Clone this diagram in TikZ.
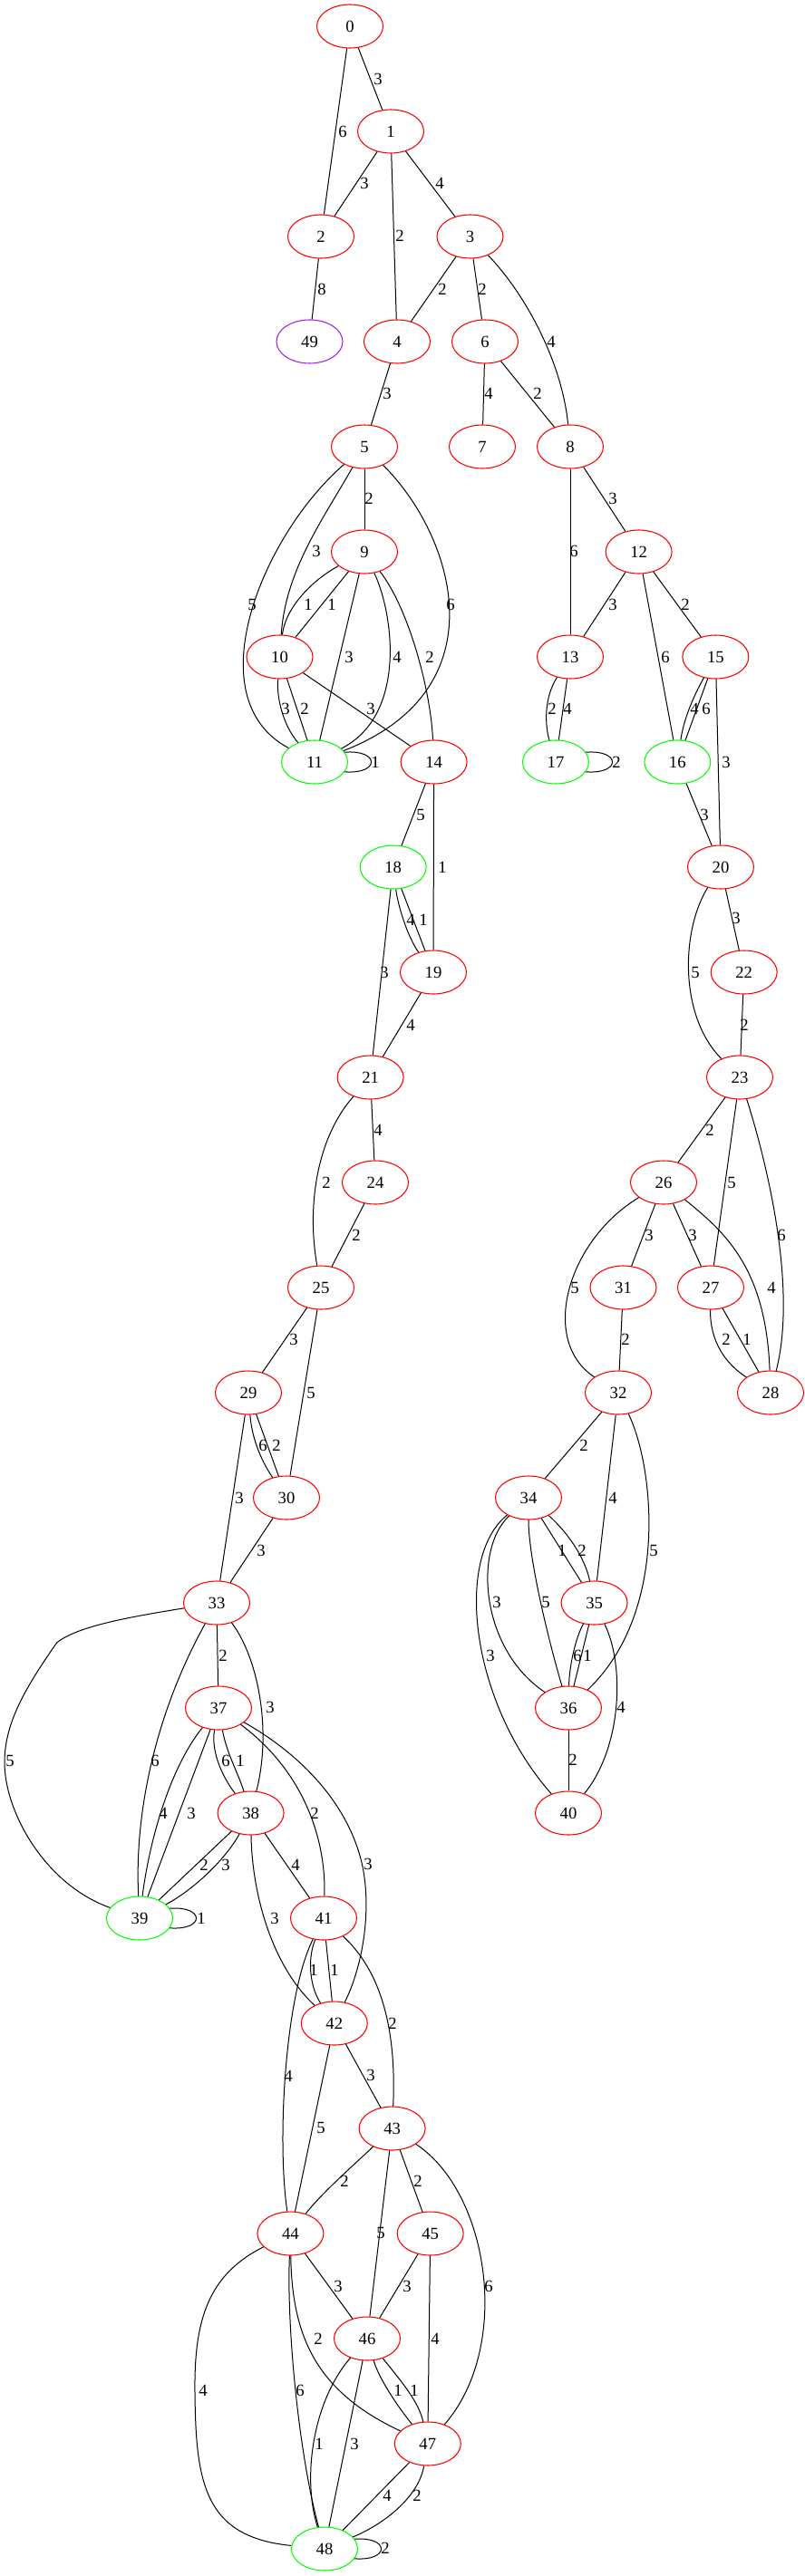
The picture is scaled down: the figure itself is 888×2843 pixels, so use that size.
\documentclass[tikz,border=0pt]{standalone}
\usepackage{fontspec}
\setmainfont{Liberation Serif}
\usetikzlibrary{shapes.geometric}
\definecolor{gvred}{HTML}{FF0000}
\definecolor{gvgreen}{HTML}{00FF00}
\definecolor{gvpurple}{HTML}{A020F0}
\tikzset{
 vtx/.style={ellipse, draw=gvred, line width=0.8pt, minimum width=54.75pt, minimum height=36pt, inner sep=0pt, font=\fontsize{14}{16}\selectfont},
 gvtx/.style={vtx, draw=gvgreen},
 pvtx/.style={vtx, draw=gvpurple},
 ed/.style={line width=0.75pt, draw=black},
 lbl/.style={inner sep=0pt, font=\fontsize{14}{16}\selectfont}
}
\begin{document}
\begin{tikzpicture}[x=0.75pt,y=-0.75pt]
\fill[white] (0,0) rectangle (888,2843);
\useasboundingbox (0,0) rectangle (888,2843);
% nodes
\node[vtx] (n0) at (386,29) {0};
\node[vtx] (n1) at (431,145) {1};
\node[vtx] (n2) at (354,261) {2};
\node[vtx] (n3) at (518.5,261) {3};
\node[pvtx] (n49) at (341.5,377) {49};
\node[vtx] (n4) at (438,377) {4};
\node[vtx] (n6) at (535,377) {6};
\node[vtx] (n5) at (402,493) {5};
\node[vtx] (n7) at (532,493) {7};
\node[vtx] (n8) at (629,493) {8};
\node[vtx] (n9) at (402,609) {9};
\node[vtx] (n12) at (704.6,609) {12};
\node[vtx] (n10) at (308.5,725) {10};
\node[vtx] (n13) at (629,725) {13};
\node[vtx] (n15) at (789.4,725) {15};
\node[gvtx] (n11) at (347,841) {11};
\node[vtx] (n14) at (478.6,841) {14};
\node[gvtx] (n17) at (613,841) {17};
\node[gvtx] (n16) at (747.3,841) {16};
\node[gvtx] (n18) at (433.7,957) {18};
\node[vtx] (n20) at (795,957) {20};
\node[vtx] (n19) at (478,1073) {19};
\node[vtx] (n22) at (820.7,1073) {22};
\node[vtx] (n21) at (408.6,1189) {21};
\node[vtx] (n23) at (816,1189) {23};
\node[vtx] (n24) at (414,1305) {24};
\node[vtx] (n26) at (732,1305) {26};
\node[vtx] (n25) at (354,1421) {25};
\node[vtx] (n31) at (687.5,1421) {31};
\node[vtx] (n27) at (784,1421) {27};
\node[vtx] (n29) at (274,1537) {29};
\node[vtx] (n32) at (682,1537) {32};
\node[vtx] (n28) at (850,1537) {28};
\node[vtx] (n30) at (316,1653) {30};
\node[vtx] (n34) at (583,1653) {34};
\node[vtx] (n33) at (239,1769) {33};
\node[vtx] (n35) at (655.6,1769) {35};
\node[vtx] (n37) at (241,1885) {37};
\node[vtx] (n36) at (627,1885) {36};
\node[vtx] (n38) at (276.6,2001) {38};
\node[vtx] (n40) at (627,2001) {40};
\node[gvtx] (n39) at (154,2117) {39};
\node[vtx] (n41) at (357,2117) {41};
\node[vtx] (n42) at (368.8,2233) {42};
\node[vtx] (n43) at (432.6,2349) {43};
\node[vtx] (n44) at (320.4,2465) {44};
\node[vtx] (n45) at (474.7,2465) {45};
\node[vtx] (n46) at (405,2581) {46};
\node[vtx] (n47) at (471.8,2697) {47};
\node[gvtx] (n48) at (358,2813) {48};
% edges
\draw[ed] (n0) -- (n1) node[lbl,at={(417,87)}] (l1) {3};
\draw[ed] (n0) -- (n2) node[lbl,at={(378,145)}] (l2) {6};
\draw[ed] (n1) -- (n2) node[lbl,at={(402,202)}] (l3) {3};
\draw[ed] (n1) -- (n4) node[lbl,at={(441,260)}] (l4) {2};
\draw[ed] (n1) -- (n3) node[lbl,at={(485,202)}] (l5) {4};
\draw[ed] (n2) -- (n49) node[lbl,at={(355,319)}] (l6) {8};
\draw[ed] (n3) -- (n4) node[lbl,at={(488,319)}] (l7) {2};
\draw[ed] (n3) -- (n6) node[lbl,at={(532,319)}] (l8) {2};
\draw[ed] (n3) .. controls (580,325) and (620,400) .. (n8) node[lbl,at={(608,377)}] (l9) {4};
\draw[ed] (n4) -- (n5) node[lbl,at={(427,434)}] (l10) {3};
\draw[ed] (n6) -- (n7) node[lbl,at={(539,434)}] (l11) {4};
\draw[ed] (n6) -- (n8) node[lbl,at={(593,434)}] (l12) {2};
\draw[ed] (n5) -- (n9) node[lbl,at={(407,550)}] (l13) {2};
\draw[ed] (n5) .. controls (355,575) and (315,630) .. (n10) node[lbl,at={(349,608)}] (l14) {3};
\draw[ed] (n5) .. controls (290,590) and (215,770) .. (n11) node[lbl,at={(278,667)}] (l15) {5};
\draw[ed] (n5) .. controls (500,590) and (555,760) .. (n11) node[lbl,at={(497,667)}] (l16) {6};
\draw[ed] (n9) .. controls (345,640) and (315,670) .. (n10) node[lbl,at={(340,667)}] (l17) {1};
\draw[ed] (n9) -- (n10) node[lbl,at={(366,667)}] (l18) {1};
\draw[ed] (n9) -- (n11) node[lbl,at={(385,725)}] (l19) {3};
\draw[ed] (n9) .. controls (435,680) and (448,790) .. (n11) node[lbl,at={(438,725)}] (l20) {4};
\draw[ed] (n9) .. controls (450,670) and (475,760) .. (n14) node[lbl,at={(474,725)}] (l21) {2};
\draw[ed] (n10) .. controls (305,770) and (312,800) .. (n11) node[lbl,at={(315,782)}] (l22) {3};
\draw[ed] (n10) -- (n11) node[lbl,at={(336,782)}] (l23) {2};
\draw[ed] (n10) -- (n14) node[lbl,at={(409,782)}] (l24) {3};
\draw[ed] (n11.18) .. controls +(39,-3) and +(39,3) .. (n11.-18) node[lbl,at={(414,841)}] (l25) {1};
\draw[ed] (n8) -- (n13) node[lbl,at={(633,608)}] (l26) {6};
\draw[ed] (n8) -- (n12) node[lbl,at={(676,550)}] (l27) {3};
\draw[ed] (n12) -- (n13) node[lbl,at={(676,667)}] (l28) {3};
\draw[ed] (n12) -- (n16) node[lbl,at={(734,725)}] (l29) {6};
\draw[ed] (n12) -- (n15) node[lbl,at={(756,667)}] (l30) {2};
\draw[ed] (n13) .. controls (600,770) and (601,800) .. (n17) node[lbl,at={(609,782)}] (l31) {2};
\draw[ed] (n13) -- (n17) node[lbl,at={(626,782)}] (l32) {4};
\draw[ed] (n17.18) .. controls +(39,-3) and +(39,3) .. (n17.-18) node[lbl,at={(680,841)}] (l33) {2};
\draw[ed] (n15) .. controls (764,770) and (754,795) .. (n16) node[lbl,at={(766,782)}] (l34) {4};
\draw[ed] (n15) -- (n16) node[lbl,at={(779,782)}] (l35) {6};
\draw[ed] (n15) -- (n20) node[lbl,at={(801,841)}] (l36) {3};
\draw[ed] (n16) -- (n20) node[lbl,at={(777,899)}] (l37) {3};
\draw[ed] (n14) -- (n18) node[lbl,at={(464,899)}] (l38) {5};
\draw[ed] (n14) -- (n19) node[lbl,at={(488,957)}] (l39) {1};
\draw[ed] (n18) .. controls (439,1000) and (450,1035) .. (n19) node[lbl,at={(453,1015)}] (l40) {4};
\draw[ed] (n18) -- (n19) node[lbl,at={(467,1015)}] (l41) {1};
\draw[ed] (n18) -- (n21) node[lbl,at={(424,1073)}] (l42) {3};
\draw[ed] (n19) -- (n21) node[lbl,at={(453,1131)}] (l43) {4};
\draw[ed] (n20) -- (n22) node[lbl,at={(812,1013)}] (l44) {3};
\draw[ed] (n20) .. controls (752,1025) and (748,1120) .. (n23) node[lbl,at={(767,1073)}] (l45) {5};
\draw[ed] (n22) -- (n23) node[lbl,at={(821,1131)}] (l46) {2};
\draw[ed] (n21) -- (n24) node[lbl,at={(417,1247)}] (l47) {4};
\draw[ed] (n21) .. controls (350,1255) and (338,1330) .. (n25) node[lbl,at={(360,1305)}] (l48) {2};
\draw[ed] (n24) -- (n25) node[lbl,at={(393,1363)}] (l49) {2};
\draw[ed] (n23) -- (n26) node[lbl,at={(783,1247)}] (l50) {2};
\draw[ed] (n23) -- (n27) node[lbl,at={(807,1305)}] (l51) {5};
\draw[ed] (n23) .. controls (845,1280) and (880,1420) .. (n28) node[lbl,at={(862,1363)}] (l52) {6};
\draw[ed] (n26) -- (n31) node[lbl,at={(716,1363)}] (l53) {3};
\draw[ed] (n26) -- (n27) node[lbl,at={(764,1363)}] (l54) {3};
\draw[ed] (n26) .. controls (625,1370) and (595,1480) .. (n32) node[lbl,at={(634,1421)}] (l55) {5};
\draw[ed] (n26) .. controls (800,1360) and (845,1400) .. (n28) node[lbl,at={(851,1421)}] (l56) {4};
\draw[ed] (n27) .. controls (783,1480) and (800,1505) .. (n28) node[lbl,at={(801,1478)}] (l57) {2};
\draw[ed] (n27) -- (n28) node[lbl,at={(824,1478)}] (l58) {1};
\draw[ed] (n31) -- (n32) node[lbl,at={(690,1478)}] (l59) {2};
\draw[ed] (n25) -- (n29) node[lbl,at={(324,1478)}] (l60) {3};
\draw[ed] (n25) -- (n30) node[lbl,at={(343,1537)}] (l61) {5};
\draw[ed] (n29) .. controls (278,1590) and (290,1615) .. (n30) node[lbl,at={(290,1595)}] (l62) {6};
\draw[ed] (n29) -- (n30) node[lbl,at={(305,1595)}] (l63) {2};
\draw[ed] (n29) -- (n33) node[lbl,at={(264,1653)}] (l64) {3};
\draw[ed] (n30) -- (n33) node[lbl,at={(288,1711)}] (l65) {3};
\draw[ed] (n32) -- (n34) node[lbl,at={(644,1595)}] (l66) {2};
\draw[ed] (n32) -- (n35) node[lbl,at={(676,1653)}] (l67) {4};
\draw[ed] (n32) .. controls (722,1620) and (738,1780) .. (n36) node[lbl,at={(721,1711)}] (l68) {5};
\draw[ed] (n34) -- (n35) node[lbl,at={(620,1711)}] (l69) {1};
\draw[ed] (n34) .. controls (625,1690) and (645,1718) .. (n35) node[lbl,at={(642,1711)}] (l70) {2};
\draw[ed] (n34) .. controls (522,1710) and (530,1820) .. (n36) node[lbl,at={(548,1768)}] (l71) {3};
\draw[ed] (n34) .. controls (583,1720) and (605,1810) .. (n36) node[lbl,at={(602,1768)}] (l72) {5};
\draw[ed] (n34) .. controls (500,1720) and (520,1880) .. (n40) node[lbl,at={(541,1827)}] (l73) {3};
\draw[ed] (n35) .. controls (634,1810) and (628,1840) .. (n36) node[lbl,at={(637,1827)}] (l74) {6};
\draw[ed] (n35) -- (n36) node[lbl,at={(648,1827)}] (l75) {1};
\draw[ed] (n35) .. controls (690,1840) and (685,1930) .. (n40) node[lbl,at={(685,1884)}] (l76) {4};
\draw[ed] (n36) -- (n40) node[lbl,at={(632,1942)}] (l77) {2};
\draw[ed] (n33) .. controls (140,1785) and (85,1795) .. (62.6,1813) .. controls (30,1860) and (5,1900) .. (5,1945) .. controls (5,2000) and (50,2080) .. (n39) node[lbl,at={(11,1943)}] (l78) {5};
\draw[ed] (n33) .. controls (172,1890) and (148,2000) .. (n39) node[lbl,at={(171,1943)}] (l79) {6};
\draw[ed] (n33) -- (n37) node[lbl,at={(246,1827)}] (l80) {2};
\draw[ed] (n33) .. controls (285,1830) and (300,1910) .. (n38) node[lbl,at={(298,1884)}] (l81) {3};
\draw[ed] (n37) .. controls (232,1935) and (248,1965) .. (n38) node[lbl,at={(249,1943)}] (l82) {6};
\draw[ed] (n37) .. controls (250,1935) and (262,1955) .. (n38) node[lbl,at={(265,1943)}] (l83) {1};
\draw[ed] (n37) .. controls (188,1950) and (165,2030) .. (n39) node[lbl,at={(180,2001)}] (l84) {4};
\draw[ed] (n37) -- (n39) node[lbl,at={(211,2001)}] (l85) {3};
\draw[ed] (n37) .. controls (335,1955) and (360,2030) .. (n41) node[lbl,at={(347,2001)}] (l86) {2};
\draw[ed] (n37) .. controls (330,1935) and (385,1990) .. (400,2060) .. controls (410,2110) and (400,2170) .. (n42) node[lbl,at={(406,2057)}] (l87) {3};
\draw[ed] (n38) -- (n39) node[lbl,at={(225,2058)}] (l88) {2};
\draw[ed] (n38) .. controls (250,2050) and (215,2085) .. (n39) node[lbl,at={(249,2058)}] (l89) {3};
\draw[ed] (n38) -- (n41) node[lbl,at={(326,2058)}] (l90) {4};
\draw[ed] (n38) .. controls (278,2090) and (300,2170) .. (n42) node[lbl,at={(303,2117)}] (l91) {3};
\draw[ed] (n39.18) .. controls +(39,-3) and +(39,3) .. (n39.-18) node[lbl,at={(222,2117)}] (l92) {1};
\draw[ed] (n41) .. controls (338,2165) and (343,2195) .. (n42) node[lbl,at={(346,2174)}] (l93) {1};
\draw[ed] (n41) -- (n42) node[lbl,at={(369,2174)}] (l94) {1};
\draw[ed] (n41) .. controls (315,2200) and (305,2360) .. (n44) node[lbl,at={(318,2291)}] (l95) {4};
\draw[ed] (n41) .. controls (425,2180) and (437,2250) .. (n43) node[lbl,at={(433,2233)}] (l96) {2};
\draw[ed] (n42) -- (n43) node[lbl,at={(409,2290)}] (l97) {3};
\draw[ed] (n42) -- (n44) node[lbl,at={(354,2348)}] (l98) {5};
\draw[ed] (n43) .. controls (395,2385) and (355,2420) .. (n44) node[lbl,at={(380,2407)}] (l99) {2};
\draw[ed] (n43) -- (n45) node[lbl,at={(461,2407)}] (l100) {2};
\draw[ed] (n43) -- (n46) node[lbl,at={(420,2464)}] (l101) {5};
\draw[ed] (n43) .. controls (540,2420) and (565,2590) .. (n47) node[lbl,at={(539,2523)}] (l102) {6};
\draw[ed] (n44) -- (n46) node[lbl,at={(373,2523)}] (l103) {3};
\draw[ed] (n45) -- (n46) node[lbl,at={(449,2523)}] (l104) {3};
\draw[ed] (n45) -- (n47) node[lbl,at={(480,2581)}] (l105) {4};
\draw[ed] (n44) .. controls (322,2580) and (350,2640) .. (n47) node[lbl,at={(351,2581)}] (l106) {2};
\draw[ed] (n44) .. controls (230,2510) and (214,2560) .. (215,2640) .. controls (216,2740) and (225,2800) .. (n48) node[lbl,at={(224,2638)}] (l107) {4};
\draw[ed] (n44) .. controls (316,2570) and (330,2710) .. (n48) node[lbl,at={(331,2638)}] (l108) {6};
\draw[ed] (n46) .. controls (418,2625) and (438,2655) .. (n47) node[lbl,at={(439,2638)}] (l109) {1};
\draw[ed] (n46) .. controls (440,2625) and (462,2650) .. (n47) node[lbl,at={(457,2638)}] (l110) {1};
\draw[ed] (n46) .. controls (345,2650) and (333,2735) .. (n48) node[lbl,at={(352,2697)}] (l111) {1};
\draw[ed] (n46) -- (n48) node[lbl,at={(391,2697)}] (l112) {3};
\draw[ed] (n47) -- (n48) node[lbl,at={(427,2754)}] (l113) {4};
\draw[ed] (n47) .. controls (462,2755) and (425,2785) .. (n48) node[lbl,at={(460,2754)}] (l114) {2};
\draw[ed] (n48.18) .. controls +(39,-3) and +(39,3) .. (n48.-18) node[lbl,at={(425,2812)}] (l115) {2};
\end{tikzpicture}
\end{document}
